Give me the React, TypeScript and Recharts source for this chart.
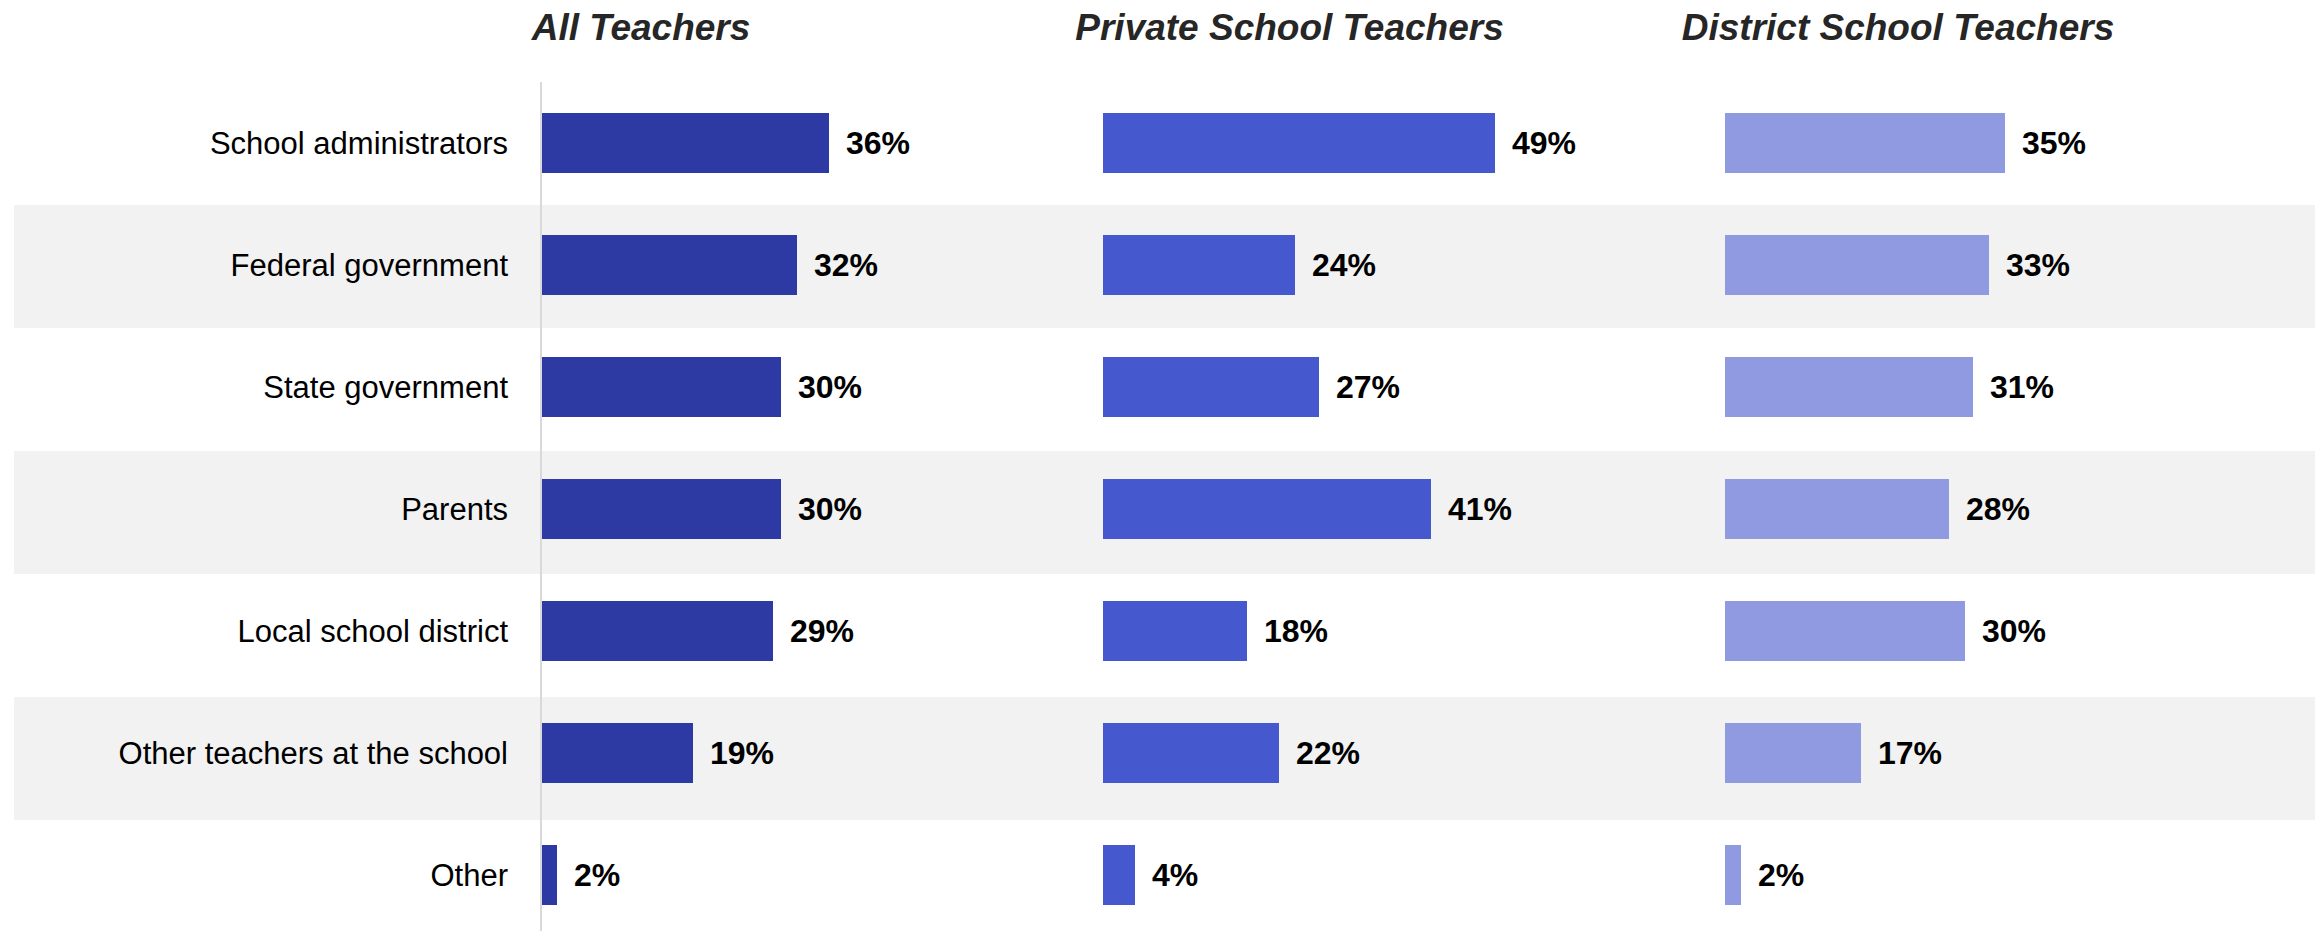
import React from 'react';
import { BarChart, Bar, XAxis, YAxis, LabelList, ReferenceArea } from 'recharts';

const categories = [
  'School administrators',
  'Federal government',
  'State government',
  'Parents',
  'Local school district',
  'Other teachers at the school',
  'Other',
];
const allTeachers = [36, 32, 30, 30, 29, 19, 2];
const privateTeachers = [49, 24, 27, 41, 18, 22, 4];
const districtTeachers = [35, 33, 31, 28, 30, 17, 2];
const panelTitles = ['All Teachers', 'Private School Teachers', 'District School Teachers'];
const panelKeys = ['all', 'priv', 'dist'];
const panelColors = ['#2D3AA4', '#4658CD', '#909AE1'];

const rows = categories.map((name, i) => ({
  name,
  all: allTeachers[i],
  priv: privateTeachers[i],
  dist: districtTeachers[i],
}));
const stripedRows = categories.filter((_, i) => i % 2 === 1);

const FONT = '"Liberation Sans", Arial, sans-serif';
const CHART_H = 944;
const MARGIN_TOP = 82;
const PLOT_W = 480;
const DOMAIN_MAX = 60;

const panelLefts = [0, 1103, 1724.5];
const axisWidths = [541, 0, 0];
const titleCenters = [641, 1289.5, 1898];

function Panel({ idx }: { idx: number }) {
  const key = panelKeys[idx];
  const axisW = axisWidths[idx];
  const width = axisW + PLOT_W + 110;
  return (
    <div style={{ position: 'absolute', left: panelLefts[idx], top: 0 }}>
      <BarChart
        width={width}
        height={CHART_H}
        data={rows}
        layout="vertical"
        margin={{ top: MARGIN_TOP, right: width - axisW - PLOT_W, bottom: 8, left: 0 }}
        style={{ fontFamily: FONT }}
      >
        <XAxis type="number" domain={[0, DOMAIN_MAX]} hide />
        {idx === 0 ? (
          <YAxis
            type="category"
            dataKey="name"
            width={axisW}
            tickLine={false}
            tickSize={0}
            tickMargin={33}
            axisLine={{ stroke: '#D9D9D9', strokeWidth: 2 }}
            tick={{ fill: '#000000', fontSize: 31, fontFamily: FONT }}
            interval={0}
          />
        ) : (
          <YAxis type="category" dataKey="name" hide width={0} />
        )}
        <Bar dataKey={key} fill={panelColors[idx]} barSize={60} isAnimationActive={false}>
          <LabelList
            dataKey={key}
            position="right"
            offset={17}
            formatter={(v: any) => `${v}%`}
            style={{ fill: '#000000', fontSize: 32, fontWeight: 700, fontFamily: FONT }}
          />
        </Bar>
      </BarChart>
    </div>
  );
}

export default function App() {
  return (
    <div
      style={{
        position: 'absolute',
        left: 0,
        top: 0,
        width: 2315,
        height: 931,
        overflow: 'hidden',
        background: '#FFFFFF',
        fontFamily: FONT,
      }}
    >
      <div style={{ position: 'absolute', left: 14, top: 0 }}>
        <BarChart
          width={2301}
          height={CHART_H}
          data={rows}
          layout="vertical"
          margin={{ top: MARGIN_TOP, right: 0, bottom: 1, left: 0 }}
        >
          <XAxis type="number" hide />
          <YAxis type="category" dataKey="name" hide width={0} />
          <Bar dataKey="all" fill="none" stroke="none" isAnimationActive={false} />
          {stripedRows.map((c) => (
            <ReferenceArea key={c} y1={c} y2={c} fill="#F2F2F2" fillOpacity={1} stroke="none" ifOverflow="visible" />
          ))}
        </BarChart>
      </div>
      {panelTitles.map((t, i) => (
        <div
          key={t}
          style={{
            position: 'absolute',
            left: titleCenters[i] - 300,
            width: 600,
            top: 7,
            textAlign: 'center',
            fontSize: 37,
            fontWeight: 700,
            fontStyle: 'italic',
            color: '#262626',
            whiteSpace: 'nowrap',
          }}
        >
          {t}
        </div>
      ))}
      {[0, 1, 2].map((i) => (
        <Panel key={i} idx={i} />
      ))}
    </div>
  );
}
